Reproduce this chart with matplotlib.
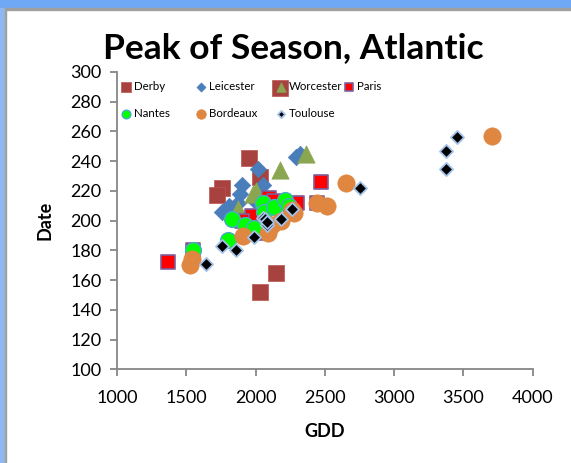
import matplotlib.pyplot as plt
from matplotlib.legend import Legend
from matplotlib.patches import Rectangle

plt.rcParams['font.family'] = ['Lato', 'DejaVu Sans']

# GDD / peak date pairs per site
derby_gdd = [1950, 2030, 1760, 1720, 2145, 2035, 2175]
derby_date = [242, 229, 222, 217, 165, 152, 289]

leicester_gdd = [2295, 2320, 2020, 1905, 2050, 1885, 1870, 1810, 1755, 1990]
leicester_date = [243, 245, 235, 224, 224, 218, 212, 210, 206, 214]

worcester_gdd = [2365, 2175, 1980, 2005, 1875]
worcester_date = [245, 234, 218, 220, 208]

paris_gdd = [1365, 1545, 1975, 2030, 2100, 2130, 2300, 2440, 2475, 1900]
paris_date = [172, 180, 203, 192, 215, 213, 212, 212, 226, 200]

nantes_gdd = [1545, 1800, 1830, 1920, 1990, 2050, 2060, 2130, 2210, 2240]
nantes_date = [180, 187, 201, 197, 195, 212, 206, 209, 214, 210]

bordeaux_gdd = [1525, 1540, 1910, 2090, 2120, 2180, 2265, 2280, 2445, 2515, 2655, 3705]
bordeaux_date = [170, 174, 190, 192, 197, 200, 207, 205, 212, 210, 225, 257]

toulouse_gdd = [1645, 1755, 1855, 1990, 2050, 2065, 2085, 2085, 2185, 2265, 2750, 3375, 3455, 3375]
toulouse_date = [171, 183, 180, 189, 202, 201, 197, 199, 201, 208, 222, 247, 256, 235]

fig = plt.figure(figsize=(5.71, 4.63), dpi=100)
ax = fig.add_axes([0.205, 0.202, 0.728, 0.643])

# window-style border on the top and left edges
fig.patches.append(Rectangle((0, 0.983), 1, 0.017, transform=fig.transFigure,
                             color='#6FA8F5', zorder=0))
fig.patches.append(Rectangle((0.009, 0.979), 0.991, 0.004, transform=fig.transFigure,
                             color='#A0A0A0', zorder=0))
fig.patches.append(Rectangle((0, 0), 0.009, 0.983, transform=fig.transFigure,
                             color='#8DB8F2', zorder=0))
fig.patches.append(Rectangle((0.009, 0), 0.0018, 0.983, transform=fig.transFigure,
                             color='#A0A0A0', zorder=0))

h = {}
h['Derby'] = ax.scatter(derby_gdd, derby_date, marker='s', s=140,
                        color='#A8423F', edgecolors='#B85450', linewidths=0.5)
h['Leicester'] = ax.scatter(leicester_gdd, leicester_date, marker='D', s=70,
                            color='#4A7EBB', edgecolors='#4A7EBB', linewidths=0.5)
h['Worcester'] = ax.scatter(worcester_gdd, worcester_date, marker='^', s=155,
                            color='#8AA650', edgecolors='#8AA650', linewidths=0.5)
h['Paris'] = ax.scatter(paris_gdd, paris_date, marker='s', s=110,
                        color='#FF0000', edgecolors='#7E5E9E', linewidths=1.2)
h['Nantes'] = ax.scatter(nantes_gdd, nantes_date, marker='o', s=130,
                         color='#00FF00', edgecolors='#4BACC6', linewidths=1.0)
h['Bordeaux'] = ax.scatter(bordeaux_gdd, bordeaux_date, marker='o', s=155,
                           color='#DF8640', edgecolors='#DF8640', linewidths=0.5)
h['Toulouse'] = ax.scatter(toulouse_gdd, toulouse_date, marker='D', s=45,
                           color='black', edgecolors='#A4C2E8', linewidths=1.3)

ax.set_xlim(1000, 4000)
ax.set_ylim(100, 300)
ax.set_xticks(range(1000, 4001, 500))
ax.set_yticks(range(100, 301, 20))

for side in ['top', 'right']:
    ax.spines[side].set_visible(False)
for side in ['left', 'bottom']:
    ax.spines[side].set_color('#868686')
    ax.spines[side].set_linewidth(1.3)
ax.tick_params(direction='out', length=5, width=1.3, color='#868686',
               labelsize=13, labelcolor='black')
ax.tick_params(axis='x', pad=10)
ax.tick_params(axis='y', pad=6)

ax.set_xlabel('GDD', fontsize=13, fontweight='bold', labelpad=12)
ax.set_ylabel('Date', fontsize=13, fontweight='bold', labelpad=12)
fig.text(0.513, 0.897, 'Peak of Season, Atlantic', fontsize=25.5,
         fontweight='bold', ha='center', va='center')

# legend laid out as evenly spaced columns, one small legend per column
columns = [(['Derby', 'Nantes'], -0.007),
           (['Leicester', 'Bordeaux'], 0.173),
           (['Worcester', 'Toulouse'], 0.365),
           (['Paris'], 0.529)]
for names, x0 in columns:
    leg = Legend(ax, [h[k] for k in names], names, loc='upper left',
                 bbox_to_anchor=(x0, 0.995), frameon=False, fontsize=8.3,
                 markerscale=0.55, handlelength=0.7, handletextpad=0.3,
                 labelspacing=1.35, borderaxespad=0.3)
    ax.add_artist(leg)

fig.savefig('out.png', dpi=100)
